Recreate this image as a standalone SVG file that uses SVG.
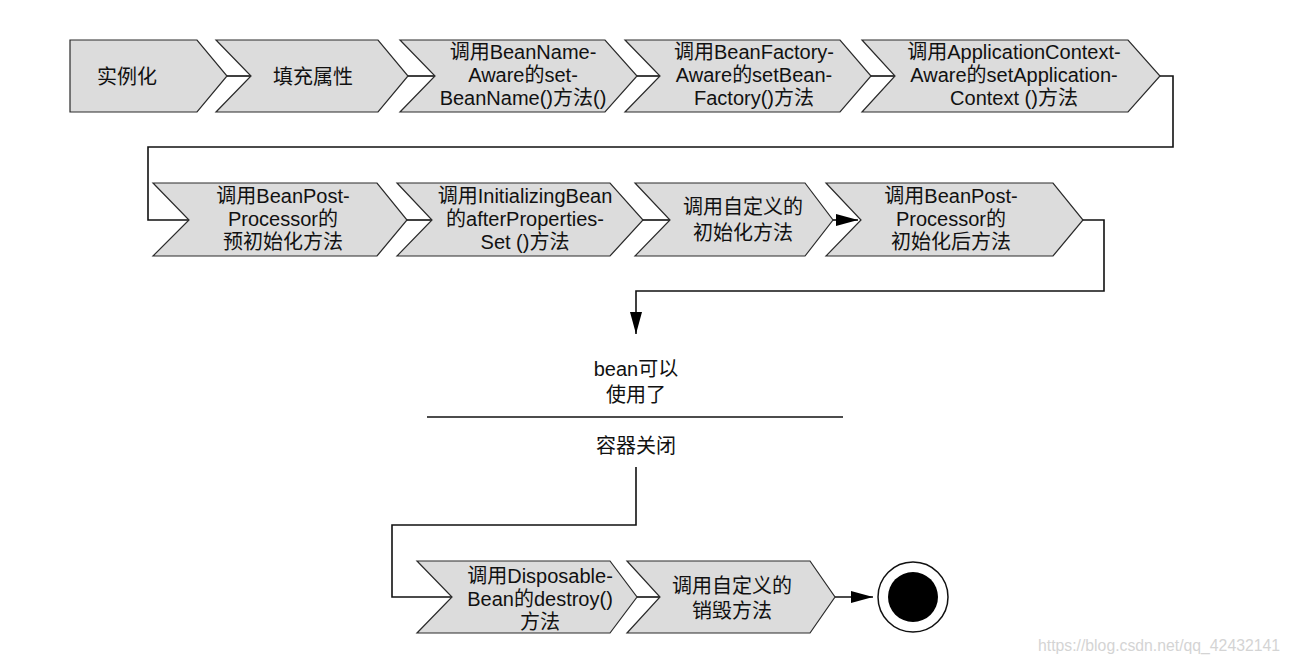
<svg xmlns="http://www.w3.org/2000/svg" width="1289" height="663" viewBox="0 0 1289 663">
  <style>
    .step { fill: #dcdcdc; stroke: #2a2a2a; stroke-width: 1.2; stroke-linejoin: miter; }
    .lbl { font-family: "Liberation Sans", "Noto Sans CJK SC", sans-serif; font-size: 20px; fill: #111; text-anchor: middle; }
    .wire { fill: none; stroke: #111; stroke-width: 1.6; }
    .mark { font-family: "Liberation Sans", sans-serif; font-size: 16px; fill: #d4d4d4; }
  </style>
  <defs>
    <marker id="arrow" viewBox="0 0 22 12" refX="22" refY="6" markerWidth="22" markerHeight="12" markerUnits="userSpaceOnUse" orient="auto">
      <path d="M0,0 L22,6 L0,12 Z" fill="#000"/>
    </marker>
  </defs>
  <rect width="1289" height="663" fill="#fff"/>

  <!-- connectors -->
  <g id="connectors">
    <path class="wire" d="M227,76 H251"/>
    <path class="wire" d="M408,76 H435"/>
    <path class="wire" d="M637,76 H660"/>
    <path class="wire" d="M871,76 H895"/>
    <path class="wire" d="M1160,76 H1173 V147 H148 V220 H189"/>
    <path class="wire" d="M407,220 H432"/>
    <path class="wire" d="M643,220 H670"/>
    <path class="wire" d="M833,220 H858" marker-end="url(#arrow)"/>
    <path class="wire" d="M1083,220 H1104 V291 H636 V334" marker-end="url(#arrow)"/>
    <path class="wire" d="M427,417 H843"/>
    <path class="wire" d="M636,467 V525 H392 V597 H452"/>
    <path class="wire" d="M637,597 H660"/>
    <path class="wire" d="M835,597 H873" marker-end="url(#arrow)"/>
  </g>

  <!-- row 1 -->
  <g id="instantiate">
    <path class="step" d="M70,40 H197 L227,76 L197,112 H70 Z"/>
    <text class="lbl" x="127" y="84">实例化</text>
  </g>
  <g id="populate">
    <path class="step" d="M216,40 H378 L408,76 L378,112 H216 L251,76 Z"/>
    <text class="lbl" x="313" y="84">填充属性</text>
  </g>
  <g id="bean-name-aware">
    <path class="step" d="M400,40 H605 L637,76 L605,112 H400 L435,76 Z"/>
    <text class="lbl" x="523" y="59">调用BeanName-</text>
    <text class="lbl" x="523" y="82">Aware的set-</text>
    <text class="lbl" x="523" y="105">BeanName()方法()</text>
  </g>
  <g id="bean-factory-aware">
    <path class="step" d="M625,40 H840 L871,76 L840,112 H625 L660,76 Z"/>
    <text class="lbl" x="754" y="59">调用BeanFactory-</text>
    <text class="lbl" x="754" y="82">Aware的setBean-</text>
    <text class="lbl" x="754" y="105">Factory()方法</text>
  </g>
  <g id="app-context-aware">
    <path class="step" d="M862,40 H1128 L1160,76 L1128,112 H862 L895,76 Z"/>
    <text class="lbl" x="1014" y="59">调用ApplicationContext-</text>
    <text class="lbl" x="1014" y="82">Aware的setApplication-</text>
    <text class="lbl" x="1014" y="105">Context ()方法</text>
  </g>

  <!-- row 2 -->
  <g id="post-process-before">
    <path class="step" d="M153,183 H377 L407,220 L377,256 H153 L189,220 Z"/>
    <text class="lbl" x="283" y="203">调用BeanPost-</text>
    <text class="lbl" x="283" y="226">Processor的</text>
    <text class="lbl" x="283" y="249">预初始化方法</text>
  </g>
  <g id="after-properties-set">
    <path class="step" d="M397,183 H610 L643,220 L610,256 H397 L432,220 Z"/>
    <text class="lbl" x="525" y="203">调用InitializingBean</text>
    <text class="lbl" x="525" y="226">的afterProperties-</text>
    <text class="lbl" x="525" y="249">Set ()方法</text>
  </g>
  <g id="custom-init">
    <path class="step" d="M635,183 H805 L833,220 L805,256 H635 L670,220 Z"/>
    <text class="lbl" x="743" y="214">调用自定义的</text>
    <text class="lbl" x="743" y="240">初始化方法</text>
  </g>
  <g id="post-process-after">
    <path class="step" d="M826,183 H1053 L1083,220 L1053,256 H826 L861,220 Z"/>
    <text class="lbl" x="951" y="203">调用BeanPost-</text>
    <text class="lbl" x="951" y="226">Processor的</text>
    <text class="lbl" x="951" y="249">初始化后方法</text>
  </g>

  <!-- ready / shutdown -->
  <g id="ready">
    <text class="lbl" x="636" y="376">bean可以</text>
    <text class="lbl" x="636" y="402">使用了</text>
  </g>
  <g id="container-close">
    <text class="lbl" x="636" y="453">容器关闭</text>
  </g>

  <!-- row 3 -->
  <g id="disposable-bean">
    <path class="step" d="M417,561 H610 L637,597 L610,633 H417 L452,597 Z"/>
    <text class="lbl" x="540" y="583">调用Disposable-</text>
    <text class="lbl" x="540" y="606">Bean的destroy()</text>
    <text class="lbl" x="540" y="629">方法</text>
  </g>
  <g id="custom-destroy">
    <path class="step" d="M627,561 H810 L835,597 L810,633 H627 L660,597 Z"/>
    <text class="lbl" x="732" y="593">调用自定义的</text>
    <text class="lbl" x="732" y="618">销毁方法</text>
  </g>
  <g id="end">
    <circle cx="913" cy="597" r="35" fill="#fff" stroke="#111" stroke-width="1.5"/>
    <circle cx="913" cy="597" r="25" fill="#000"/>
  </g>

  <text class="mark" x="1038" y="651" textLength="242" lengthAdjust="spacingAndGlyphs">https://blog.csdn.net/qq_42432141</text>
</svg>
